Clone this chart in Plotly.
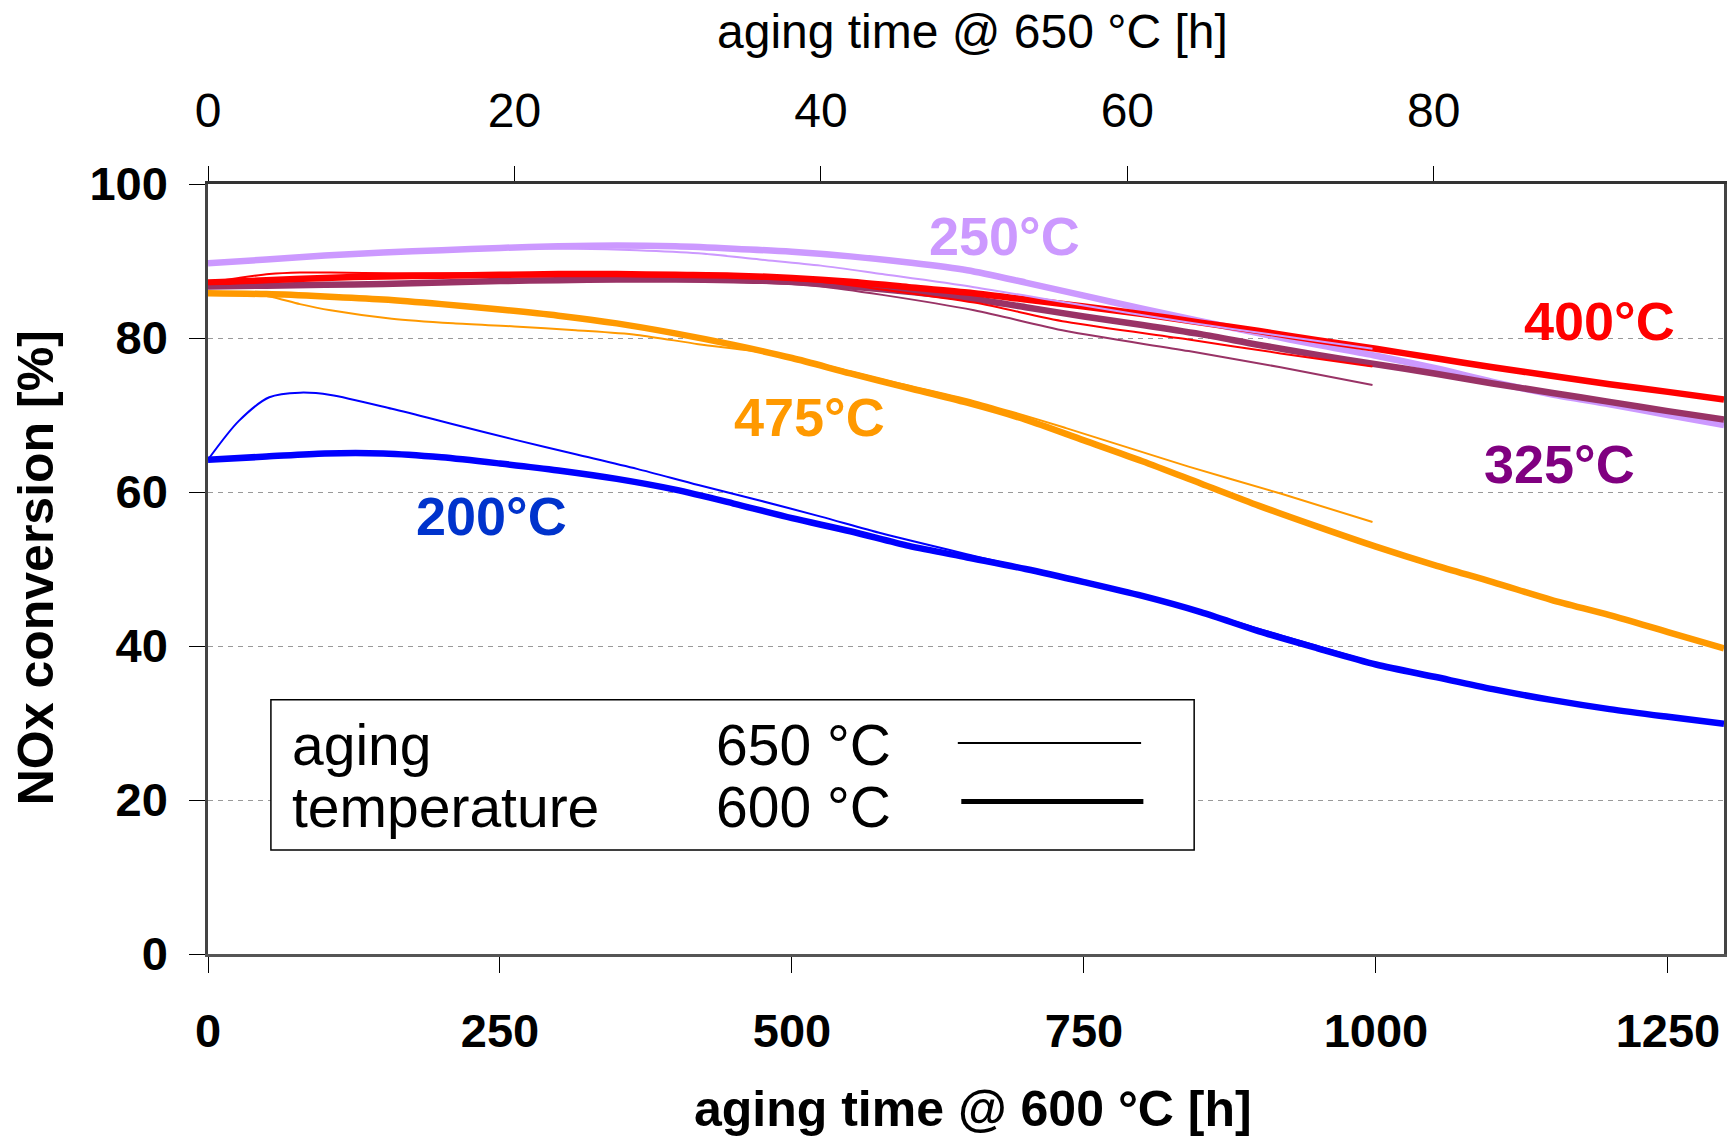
import plotly.graph_objects as go

# ---------------- data ----------------
# thick lines: aging at 600 °C, x = aging time @ 600 °C [h]
t600 = [0, 50, 100, 150, 200, 250, 300, 350, 400, 450, 500, 550, 600, 650, 700,
        750, 800, 850, 900, 950, 1000, 1050, 1100, 1150, 1200, 1250, 1298]
nox600_200 = [64.2, 64.6, 65.0, 65.0, 64.5, 63.7, 62.8, 61.7, 60.3, 58.5, 56.6, 54.9, 53.0, 51.5, 50.0,
              48.3, 46.5, 44.4, 41.9, 39.7, 37.6, 36.0, 34.4, 33.0, 31.8, 30.8, 29.9]
nox600_250 = [89.7, 90.2, 90.7, 91.1, 91.4, 91.7, 91.9, 92.0, 91.9, 91.6, 91.2, 90.6, 89.8, 88.8, 87.2,
              85.5, 83.8, 82.2, 80.6, 79.1, 77.7, 76.1, 74.3, 72.7, 71.4, 70.0, 68.7]
nox600_325 = [86.7, 86.8, 86.9, 87.0, 87.2, 87.4, 87.5, 87.6, 87.6, 87.5, 87.3, 86.7, 86.0, 85.2, 84.0,
              82.8, 81.7, 80.5, 79.1, 77.8, 76.6, 75.4, 74.1, 72.9, 71.7, 70.5, 69.4]
nox600_400 = [87.2, 87.5, 87.8, 88.0, 88.1, 88.2, 88.3, 88.3, 88.2, 88.1, 87.8, 87.3, 86.6, 85.9, 85.0,
              84.1, 83.1, 82.0, 80.9, 79.7, 78.6, 77.4, 76.2, 75.1, 74.0, 73.0, 72.0]
nox600_475 = [85.8, 85.7, 85.4, 85.0, 84.4, 83.7, 82.9, 81.9, 80.6, 79.1, 77.4, 75.4, 73.5, 71.6, 69.4,
              66.7, 64.0, 61.1, 58.2, 55.5, 52.9, 50.5, 48.3, 46.0, 44.0, 41.8, 39.7]

# thin lines: aging at 650 °C, x = aging time @ 650 °C [h]
t650 = [0, 2, 4, 6, 8, 12, 16, 20, 24, 28, 32, 36, 40, 44, 50, 56, 64, 70, 76]
nox650_200 = [64.2, 69.2, 72.3, 72.9, 72.6, 70.8, 68.8, 66.8, 64.9, 63.0, 60.9, 58.9, 56.8, 54.6, 51.7,
              48.9, 44.9, 41.4, 37.9]
nox650_250 = [89.7, 89.9, 90.2, 90.5, 90.8, 91.1, 91.4, 91.6, 91.6, 91.4, 91.0, 90.2, 89.4, 88.3, 86.6,
              84.6, 82.0, 80.3, 78.6]
nox650_325 = [86.7, 86.8, 86.9, 87.0, 87.1, 87.2, 87.3, 87.4, 87.5, 87.5, 87.4, 87.2, 86.7, 85.6, 83.6,
              80.9, 78.3, 76.2, 73.9]
nox650_400 = [87.2, 87.8, 88.3, 88.5, 88.5, 88.4, 88.4, 88.4, 88.3, 88.2, 88.0, 87.8, 87.3, 86.3, 84.6,
              82.1, 79.8, 78.0, 76.3]
nox650_475 = [85.8, 85.7, 85.4, 84.4, 83.6, 82.5, 81.9, 81.5, 81.0, 80.4, 79.2, 78.2, 76.6, 74.6, 71.8,
              68.3, 63.3, 59.8, 56.1]

# curve labels (measurement temperature)
label_text = ["250°C", "400°C", "475°C", "325°C", "200°C"]
label_x = [682, 1191, 515, 1157, 243]
label_y = [93.3, 82.2, 69.7, 63.6, 56.9]

x600_range = [0, 1298]
x650_range = [0, 98.94]
x600_ticks = [0, 250, 500, 750, 1000, 1250]
x650_ticks = [0, 20, 40, 60, 80]
y_ticks = [0, 20, 40, 60, 80, 100]

# ---------------- style ----------------
C250 = "#CC99FF"
C325 = "#993366"
C400 = "#FF0000"
C475 = "#FF9900"
C200 = "#0000FF"
label_colors = [C250, C400, C475, "#800080", "#0033CC"]
THICK = 6.5
THIN = 2

FONT = "Liberation Sans, Arial, sans-serif"

fig = go.Figure()

def thin(y, c):
    fig.add_trace(go.Scatter(x=t650, y=y, xaxis="x2", yaxis="y", mode="lines",
                             line=dict(color=c, width=THIN, shape="spline", smoothing=0.8),
                             showlegend=False, hoverinfo="skip"))

def thick(y, c):
    fig.add_trace(go.Scatter(x=t600, y=y, xaxis="x", yaxis="y", mode="lines",
                             line=dict(color=c, width=THICK, shape="spline", smoothing=0.8),
                             showlegend=False, hoverinfo="skip"))

thin(nox650_250, C250)
thick(nox600_250, C250)
thin(nox650_400, C400)
thin(nox650_325, C325)
thick(nox600_325, C325)
thick(nox600_400, C400)
thin(nox650_475, C475)
thick(nox600_475, C475)
thin(nox650_200, C200)
thick(nox600_200, C200)

for t, x, y, c in zip(label_text, label_x, label_y, label_colors):
    fig.add_annotation(x=x, y=y, xref="x", yref="y", text=t, showarrow=False,
                       font=dict(family=FONT, size=54, color=c, weight="bold"),
                       xanchor="center", yanchor="middle")

# axis titles
fig.add_annotation(x=0.5047, y=-0.2015, xref="paper", yref="paper", text="aging time @ 600 °C [h]",
                   showarrow=False, xanchor="center", yanchor="middle",
                   font=dict(family=FONT, size=50, color="black", weight="bold"))
fig.add_annotation(x=0.504, y=1.1986, xref="paper", yref="paper", text="aging time @ 650 °C [h]",
                   showarrow=False, xanchor="center", yanchor="middle",
                   font=dict(family=FONT, size=48, color="black"))
fig.add_annotation(x=-0.1129, y=0.502, xref="paper", yref="paper", text="NOx conversion [%]",
                   showarrow=False, textangle=-90, xanchor="center", yanchor="middle",
                   font=dict(family=FONT, size=50, color="black", weight="bold"))

# custom legend
fig.add_shape(type="rect", xref="paper", yref="paper", x0=0.0415, x1=0.6505, y0=0.135, y1=0.3303,
              line=dict(color="black", width=1.5), fillcolor="white", layer="above")
leg_font = dict(family=FONT, size=57, color="black")
fig.add_annotation(x=0.054, y=0.271, xref="paper", yref="paper", text="aging", showarrow=False,
                   xanchor="left", yanchor="middle", font=leg_font)
fig.add_annotation(x=0.054, y=0.1908, xref="paper", yref="paper", text="temperature", showarrow=False,
                   xanchor="left", yanchor="middle", font=leg_font)
fig.add_annotation(x=0.334, y=0.271, xref="paper", yref="paper", text="650 °C", showarrow=False,
                   xanchor="left", yanchor="middle", font=leg_font)
fig.add_annotation(x=0.334, y=0.1908, xref="paper", yref="paper", text="600 °C", showarrow=False,
                   xanchor="left", yanchor="middle", font=leg_font)
fig.add_shape(type="line", xref="paper", yref="paper", x0=0.4946, x1=0.6155, y0=0.274, y1=0.274,
              line=dict(color="black", width=2), layer="above")
fig.add_shape(type="line", xref="paper", yref="paper", x0=0.4969, x1=0.6170, y0=0.198, y1=0.198,
              line=dict(color="black", width=5), layer="above")

fig.update_layout(
    width=1732, height=1140,
    margin=dict(l=208, r=8, t=184, b=186, autoexpand=False),
    plot_bgcolor="white", paper_bgcolor="white",
    showlegend=False,
    xaxis=dict(range=x600_range, tickvals=x600_ticks, ticks="outside", ticklen=16, tickwidth=1,
               tickcolor="black", showline=True, linecolor="#555", linewidth=3, mirror=False,
               showgrid=False, zeroline=False, ticklabelstandoff=18,
               tickfont=dict(family=FONT, size=47, color="black", weight="bold")),
    xaxis2=dict(range=x650_range, tickvals=x650_ticks, overlaying="x", side="top", anchor="y",
                ticks="outside", ticklen=15, tickwidth=1, tickcolor="black",
                showline=True, linecolor="#333", linewidth=3, showgrid=False, zeroline=False,
                ticklabelstandoff=20, tickfont=dict(family=FONT, size=48, color="black")),
    xaxis3=dict(range=x650_range, tickvals=x650_ticks, overlaying="x", side="top", anchor="y",
                ticks="inside", ticklen=15, tickwidth=1, tickcolor="black", showticklabels=False,
                showline=False, showgrid=False, zeroline=False),
    yaxis=dict(range=[0, 100], tickvals=y_ticks, ticks="outside", ticklen=16, tickwidth=1,
               tickcolor="black", showline=True, linecolor="#444", linewidth=2.5, mirror=True,
               showgrid=True, gridcolor="#999", gridwidth=1, griddash="5px,5px", zeroline=False,
               ticklabelstandoff=12,
               tickfont=dict(family=FONT, size=47, color="black", weight="bold")),
)

fig.write_html("out.html")
